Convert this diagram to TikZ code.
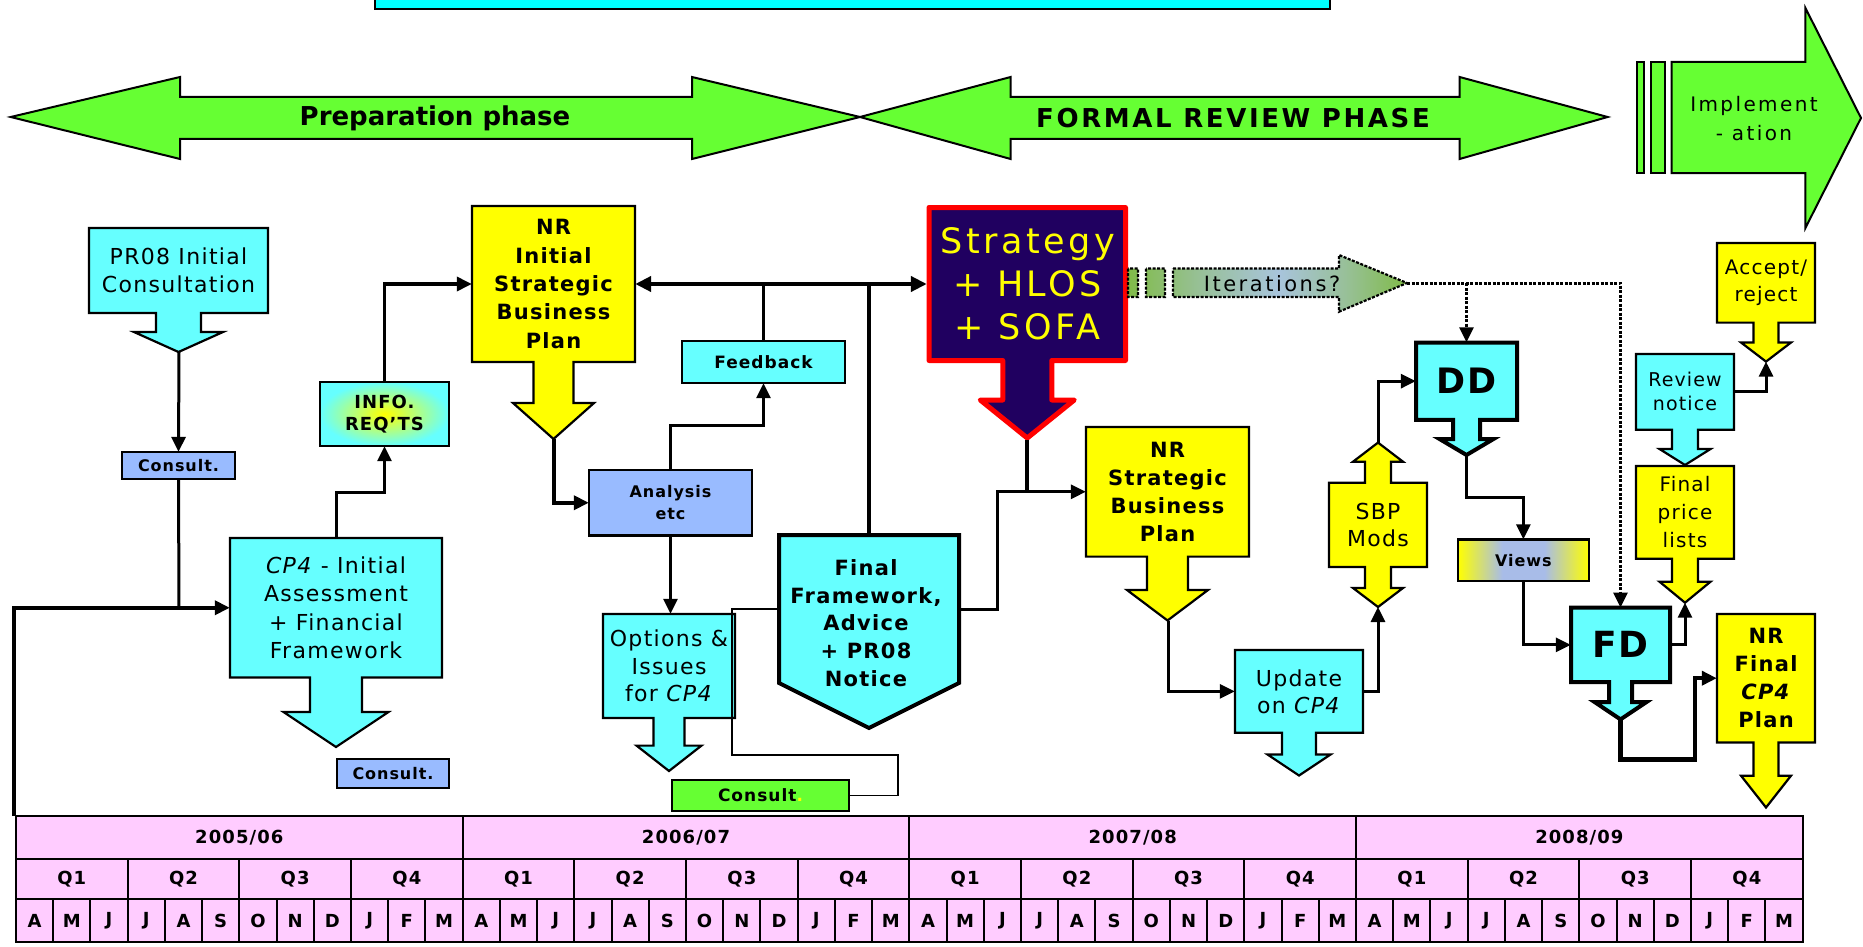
\documentclass[tikz,border=0pt]{standalone}
\usepackage{fontspec}
\setmainfont{DejaVu Sans}[LetterSpace=6]
\usetikzlibrary{arrows.meta}
\definecolor{topcyan}{HTML}{00FFFF}
\definecolor{cyanbox}{HTML}{66FFFF}
\definecolor{ylw}{HTML}{FFFF00}
\definecolor{lblue}{HTML}{99BBFF}
\definecolor{argreen}{HTML}{66FF33}
\definecolor{tlpink}{HTML}{FFCCFF}
\definecolor{stratblue}{HTML}{200060}
\definecolor{itgreen}{HTML}{80BB48}
\definecolor{itblue}{HTML}{A8C4DC}
\definecolor{itmid}{HTML}{98C098}
\definecolor{viewblue}{HTML}{A8BCE8}
\pgfdeclarehorizontalshading{itershade}{100bp}{color(0bp)=(itgreen); color(25bp)=(itgreen); color(38bp)=(itmid); color(52bp)=(itblue); color(64bp)=(itmid); color(75bp)=(itgreen); color(100bp)=(itgreen)}
\pgfdeclarehorizontalshading{viewshade}{100bp}{color(0bp)=(ylw); color(25bp)=(ylw); color(42bp)=(viewblue); color(58bp)=(viewblue); color(75bp)=(ylw); color(100bp)=(ylw)}
\newcommand\fsz[2]{\fontsize{#1}{#2}\selectfont}
\newcommand\mkarrowbox[9]{%
  \pgfmathsetmacro\abcx{(#2+#4)/2}%
  \path[#1] (#2,#3) -- (#4,#3) -- (#4,#5) -- (\abcx+#6,#5) -- (\abcx+#6,#8) -- (\abcx+#7,#8) -- (\abcx,#9) -- (\abcx-#7,#8) -- (\abcx-#6,#8) -- (\abcx-#6,#5) -- (#2,#5) -- cycle;}
\newcommand\boxtext[7]{\node[txt,#1,minimum width={#4-#2},minimum height={#5-#3}] (#6) at ({(#2+#4)/2},{(#3+#5)/2}) {#7};}
\begin{document}
\begin{tikzpicture}[x=1pt,y=-1pt,
  shp/.style={draw=black, line width=2.2pt, line join=miter},
  cy/.style={shp, fill=cyanbox},
  yl/.style={shp, fill=ylw},
  lb/.style={shp, fill=lblue},
  bigarrow/.style={draw=black, line width=2pt, fill=argreen, line join=miter},
  txt/.style={inner sep=0pt, align=center, text=black},
  conn/.style={draw=black, line width=3pt, -{Triangle[length=15pt,width=14pt]}},
  connplain/.style={draw=black, line width=3pt},
  heavy/.style={draw=black, line width=4.5pt},
  dotconn/.style={draw=black, line width=3pt, dash pattern=on 3pt off 1.5pt, -{Triangle[length=15pt,width=14pt]}},
  thinline/.style={draw=black, line width=1.6pt},
  tlcell/.style={draw=black, line width=2pt, fill=tlpink},
  tltext/.style={inner sep=0pt, font=\bfseries\fsz{18}{20}}]
\useasboundingbox (0,0) rectangle (1863,947);
\fill[white] (0,0) rectangle (1863,947);

% top cyan bar
\path[draw=black, line width=2pt, fill=topcyan] (375,-6) rectangle (1330,9.5);

% phase arrows
\path[bigarrow] (10.7,117) -- (180,77) -- (180,97) -- (692,97) -- (692,77) -- (860,117) -- (692,159) -- (692,139) -- (180,139) -- (180,159) -- cycle;
\path[bigarrow] (860,117) -- (1010.6,77) -- (1010.6,97) -- (1459.6,97) -- (1459.6,77) -- (1607.6,117) -- (1459.6,159) -- (1459.6,139) -- (1010.6,139) -- (1010.6,159) -- cycle;
\path[bigarrow] (1636.5,62) rectangle (1644,173);
\path[bigarrow] (1650.6,62) rectangle (1665.3,173);
\path[bigarrow] (1671.5,62) -- (1805.4,62) -- (1805.4,8) -- (1861,118) -- (1805.4,228) -- (1805.4,173) -- (1671.5,173) -- cycle;
\node[txt, font=\bfseries\fsz{26}{30}\addfontfeature{LetterSpace=0}] (prep) at (435,118) {Preparation phase};
\node[txt, font=\bfseries\fsz{26}{30}\addfontfeature{LetterSpace=10}] (formal) at (1233,118) {FORMAL REVIEW PHASE};
\node[txt, font=\fsz{20}{29}\addfontfeature{LetterSpace=12}] (impl) at (1754,119) {Implement\\- ation};

% block shapes
\mkarrowbox{cy}{89}{228}{268}{313}{22.5}{44.5}{332}{352}
\mkarrowbox{cy}{230}{538}{442}{677.5}{26}{52.5}{712}{747}
\mkarrowbox{yl}{472}{206}{635}{362}{20}{40.5}{403}{439}
\mkarrowbox{cy}{603}{614}{735}{718}{15.5}{32.5}{745.6}{771}
\mkarrowbox{draw=red, line width=5pt, fill=stratblue, line join=round}{929}{207.5}{1125.5}{360.5}{24.5}{47}{400}{438}
\mkarrowbox{yl}{1086}{427}{1249}{556.6}{20.5}{40.5}{590}{620.5}
\mkarrowbox{cy}{1235}{650}{1363}{732.7}{17}{31.5}{754.5}{775.5}
\mkarrowbox{cy, line width=4pt}{1416}{342.5}{1517}{419.8}{13.5}{27}{439}{455}
\mkarrowbox{cy, line width=4pt}{1571}{607.7}{1670}{682}{11.5}{26}{702}{719.4}
\mkarrowbox{cy}{1636}{354}{1734}{429.7}{13}{25.5}{449}{465}
\mkarrowbox{yl}{1636}{466}{1734}{558.7}{13}{25.5}{581.7}{602.7}
\mkarrowbox{yl}{1717}{243}{1815}{322.6}{12.5}{25}{342.5}{361.6}
\mkarrowbox{yl}{1717}{614}{1815}{742.4}{12.5}{25}{775.7}{807.5}
% SBP Mods double arrow
\path[yl] (1329,482.8) -- (1365,482.8) -- (1365,461.7) -- (1353,461.7) -- (1378,442.6) -- (1403,461.7) -- (1391,461.7) -- (1391,482.8) -- (1427,482.8) -- (1427,567) -- (1391,567) -- (1391,588) -- (1403,588) -- (1378,607) -- (1353,588) -- (1365,588) -- (1365,567) -- (1329,567) -- cycle;
% Final framework pentagon
\path[draw=black, line width=4pt, fill=cyanbox, line join=miter] (779,535) -- (959,535) -- (959,683) -- (869,728) -- (779,683) -- cycle;
% plain boxes
\path[lb] (122,452) rectangle (235,479);
\path[lb] (337,759) rectangle (449,788);
\path[draw=black, line width=2.2pt, inner color=ylw, outer color=cyanbox] (320,382) rectangle (449,446);
\path[cy] (682,340.7) rectangle (845,383);
\path[lb] (589,470) rectangle (752,535.5);
\path[shp, fill=argreen] (672,780) rectangle (849,810.7);
\path[draw=black, line width=2.2pt, shading=viewshade] (1457.7,539.5) rectangle (1589,581);
% iterations arrow
\path[draw=black, line width=2.2pt, dash pattern=on 3pt off 1.5pt, shading=itershade]
  (1128,268.5) rectangle (1138,297)
  (1146,268.5) rectangle (1165,297)
  (1173,268.5) -- (1339,268.5) -- (1339,255) -- (1407,283) -- (1339,311.7) -- (1339,297) -- (1173,297) -- cycle;

% texts
\boxtext{font=\fsz{22}{28}}{89}{228}{268}{313}{pr08}{PR08 Initial\\Consultation}
\boxtext{font=\fsz{22}{28.2}}{230}{538}{442}{677.5}{cp4}{\textit{CP4} - Initial\\Assessment\\+ Financial\\Framework}
\boxtext{font=\bfseries\fsz{16}{20}}{122}{452}{235}{479}{consultA}{Consult.}
\boxtext{font=\bfseries\fsz{16}{20}}{337}{759}{449}{788}{consultB}{Consult.}
\boxtext{font=\bfseries\fsz{18}{22.6}}{320}{382}{449}{446}{info}{INFO.\\REQ'TS}
\boxtext{font=\bfseries\fsz{21}{28.4}}{472}{206}{635}{362}{nrinit}{NR\\Initial\\Strategic\\Business\\Plan}
\boxtext{font=\bfseries\fsz{17}{20}}{682}{340.7}{845}{383}{feedback}{Feedback}
\boxtext{font=\bfseries\fsz{16}{22}}{589}{470}{752}{535.5}{analysis}{Analysis\\etc}
\boxtext{font=\fsz{22}{27.5}}{603}{614}{735}{718}{options}{Options \&\\Issues\\for \textit{CP4}}
\boxtext{font=\bfseries\fsz{17}{20}}{672}{780}{849}{810.7}{consultC}{Consult{\color{ylw}.}}
\node[txt, minimum width=180, minimum height=148] (ff) at (869,609) {};
\node[txt, font=\bfseries\fsz{21}{27.6}] (fftext) at (866,623) {Final\\Framework,\\Advice\\+ PR08\\Notice};
\boxtext{text=ylw, font=\fsz{35}{43}\addfontfeature{LetterSpace=10}}{927}{205}{1128}{363}{strat}{Strategy\\+ HLOS\\+ SOFA}
\node[txt, font=\fsz{21}{24}\addfontfeature{LetterSpace=12}] (iter) at (1272,284) {Iterations?};
\boxtext{font=\bfseries\fsz{21}{28}}{1086}{427}{1249}{556.6}{nrsbp}{NR\\Strategic\\Business\\Plan}
\boxtext{font=\fsz{22}{27}}{1235}{650}{1363}{732.7}{update}{Update\\on \textit{CP4}}
\boxtext{font=\fsz{22}{27}}{1329}{482.8}{1427}{567}{sbp}{SBP\\Mods}
\boxtext{font=\bfseries\fsz{35}{40}}{1416}{342.5}{1517}{419.8}{dd}{DD}
\boxtext{font=\bfseries\fsz{16}{20}}{1457.7}{539.5}{1589}{581}{views}{Views}
\boxtext{font=\bfseries\fsz{36}{40}}{1571}{607.7}{1670}{682}{fd}{FD}
\boxtext{font=\fsz{19}{24}}{1636}{354}{1734}{429.7}{review}{Review\\notice}
\boxtext{font=\fsz{20}{28}}{1636}{466}{1734}{558.7}{fpl}{Final\\price\\lists}
\boxtext{font=\fsz{20}{27}}{1717}{243}{1815}{322.6}{accept}{Accept/\\reject}
\boxtext{font=\bfseries\fsz{21}{28}}{1717}{614}{1815}{742.4}{nrfinal}{NR\\Final\\\textit{CP4}\\Plan}

% named points
\coordinate (pr08tip) at (179,352);
\coordinate (j1) at (179,608);
\coordinate (tlstart) at (14,816);
\coordinate (nrinittip) at (554,439);
\coordinate (strattip) at (1027,440);
\coordinate (nrsbptip) at (1168,620.5);
\coordinate (sbptop) at (1378,442.6);
\coordinate (sbpbot) at (1378,607);
\coordinate (itertip) at (1407,283);
\coordinate (ddtip) at (1466.5,455);
\coordinate (fdtip) at (1620.5,719.4);
\coordinate (fpltip) at (1685,602.7);
\coordinate (accepttip) at (1766,361.6);

% connectors
\draw[conn] (pr08tip) -- (consultA.north);
\draw[connplain] (consultA.south) -- (j1);
\draw[conn, line width=3.8pt] (tlstart) |- (cp4.west);
\draw[conn] (cp4.north) -- ++(0,-45.5) -| (info.south);
\draw[conn, line width=3.5pt] (info.north) |- (nrinit.west);
\draw[conn, line width=4.5pt] (nrinittip) |- (analysis.west);
\draw[conn] (analysis.north) -- ++(0,-44) -| (feedback.south);
\draw[connplain] (feedback.north) -- (feedback.north |- nrinit.east);
\draw[heavy, {Triangle[length=16pt,width=15pt]}-{Triangle[length=16pt,width=15pt]}] (nrinit.east) -- (strat.west);
\draw[heavy] (ff.north) -- (ff.north |- nrinit.east);
\draw[conn] (ff.east) -- ++(38,0) |- (nrsbp.west);
\draw[heavy] (strattip) -- (strattip |- nrsbp.west);
\draw[thinline] (ff.west) -- ++(-47,0) |- (898,755) |- (consultC.east);
\draw[conn] (analysis.south) -- (analysis.south |- options.north);
\draw[conn] (nrsbptip) |- (update.west);
\draw[conn] (update.east) -| (sbpbot);
\draw[conn] (sbptop) |- (dd.west);
\draw[dotconn] (itertip) -| (fd.north);
\draw[dotconn] (itertip -| dd.north) -- (dd.north);
\draw[conn] (ddtip) -- ++(0,42.5) -| (views.north);
\draw[conn] (views.south) |- (fd.west);
\draw[conn] (fd.east) -| (fpltip);
\draw[conn, line width=4.5pt] (fdtip) |- (1695,759.6) |- (nrfinal.west);
\draw[conn] (review.east) -| (accepttip);

% timeline
\foreach \k in {0,...,3} {
  \path[tlcell] ({16+446.675*\k},816) rectangle ({16+446.675*(\k+1)},859.3);
}
\foreach \k in {0,...,15} {
  \path[tlcell] ({16+111.669*\k},859.3) rectangle ({16+111.669*(\k+1)},899.3);
}
\foreach \k in {0,...,47} {
  \path[tlcell] ({16+37.2229*\k},899.3) rectangle ({16+37.2229*(\k+1)},941.7);
}
\foreach \yr [count=\k from 0] in {2005/06,2006/07,2007/08,2008/09} {
  \node[tltext] (yr\k) at ({16+446.675*(\k+0.5)},838) {\yr};
}
\foreach \k in {0,...,15} {
  \pgfmathtruncatemacro\qq{mod(\k,4)+1}
  \node[tltext] (q\k) at ({16+111.669*(\k+0.5)},879.5) {Q\qq};
}
\foreach \m [count=\k from 0] in {A,M,J,J,A,S,O,N,D,J,F,M,A,M,J,J,A,S,O,N,D,J,F,M,A,M,J,J,A,S,O,N,D,J,F,M,A,M,J,J,A,S,O,N,D,J,F,M} {
  \node[tltext] (m\k) at ({16+37.2229*(\k+0.5)},920.5) {\m};
}
\end{tikzpicture}
\end{document}
